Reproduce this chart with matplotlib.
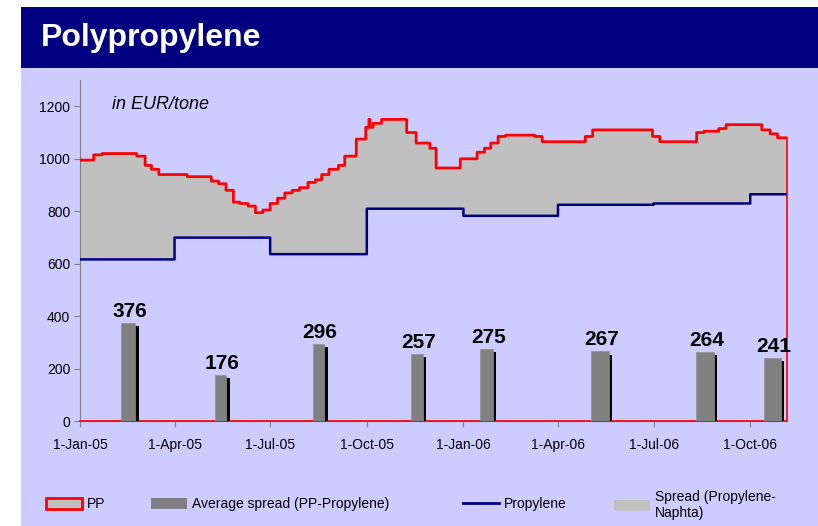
"""
    Polypropylene: PP price against the propylene contract price and the
    average spread between them, January 2005 to November 2006, in EUR/tone.
"""
# Modules:
import pandas as pd
import matplotlib.pyplot as plt
import matplotlib.dates as mdates
from matplotlib.patches import Patch, Rectangle
from matplotlib.lines import Line2D

# Data:
pp_dates = ['2005-01-01', '2005-01-14', '2005-01-22', '2005-02-24', '2005-03-04',
            '2005-03-10', '2005-03-17', '2005-04-13', '2005-05-06', '2005-05-13',
            '2005-05-20', '2005-05-27', '2005-06-02', '2005-06-10', '2005-06-17',
            '2005-06-24', '2005-07-01', '2005-07-08', '2005-07-15', '2005-07-22',
            '2005-07-29', '2005-08-06', '2005-08-13', '2005-08-19', '2005-08-26',
            '2005-09-04', '2005-09-10', '2005-09-21', '2005-09-30', '2005-10-03',
            '2005-10-04', '2005-10-07', '2005-10-15', '2005-11-08', '2005-11-17',
            '2005-11-30', '2005-12-06', '2005-12-29', '2006-01-14', '2006-01-21',
            '2006-01-27', '2006-02-03', '2006-02-10', '2006-03-10', '2006-03-17',
            '2006-04-27', '2006-05-04', '2006-06-30', '2006-07-07', '2006-08-11',
            '2006-08-18', '2006-09-01', '2006-09-08', '2006-10-12', '2006-10-20',
            '2006-10-27']
pp_values = [995, 1015, 1020, 1010, 975,
             960, 940, 932, 915, 905,
             880, 835, 830, 820, 795,
             805, 830, 850, 870, 880,
             890, 910, 920, 940, 960,
             975, 1010, 1075, 1120, 1150,
             1120, 1135, 1150, 1100, 1060,
             1040, 965, 1000, 1025, 1040,
             1060, 1085, 1090, 1085, 1065,
             1085, 1110, 1085, 1065, 1100,
             1105, 1115, 1130, 1110, 1095,
             1080]
propylene_dates = ['2005-01-01', '2005-04-01', '2005-07-01', '2005-10-01', '2006-01-01',
                   '2006-04-01', '2006-07-01', '2006-10-01']
propylene_values = [617, 700, 637, 810, 783, 825, 830, 865]
spread_dates = ['2005-02-16', '2005-05-15', '2005-08-16', '2005-11-18', '2006-01-23',
                '2006-05-11', '2006-08-19', '2006-10-22']
spread_values = [376, 176, 296, 257, 275, 267, 264, 241]
spread_days = [13, 10.5, 11, 11, 12, 17, 17, 16]  # width of each bar in days
xtick_dates = ['2005-01-01', '2005-04-01', '2005-07-01', '2005-10-01', '2006-01-01',
               '2006-04-01', '2006-07-01', '2006-10-01']
xtick_labels = ['1-Jan-05', '1-Apr-05', '1-Jul-05', '1-Oct-05', '1-Jan-06',
                '1-Apr-06', '1-Jul-06', '1-Oct-06']
yticks = [0, 200, 400, 600, 800, 1000, 1200]
start_date = '2005-01-01'
end_date = '2006-11-05'

# Colours:
NAVY = '#000080'
LAVENDER = '#CCCCFF'
LIGHT_GREY = '#C0C0C0'
DARK_GREY = '#808080'

plt.rcParams['font.family'] = ['Liberation Sans', 'DejaVu Sans']


# Functions:
def daily_steps(dates, values):
    """ Hold each price until it changes, one value per day up to the end date. """
    series = pd.Series(values, index=pd.to_datetime(dates))
    days = pd.date_range(start_date, end_date, freq='D')
    series = series.reindex(days).ffill()

    return(mdates.date2num(days.to_pydatetime()), series.values)


def draw_background(fig):
    """ Lavender panel with the navy title band on top. """

    # Panel and title band:
    fig.patches.append(Rectangle((0.0253, 0), 0.975, 0.8707, transform=fig.transFigure,
                                 facecolor=LAVENDER, edgecolor='none', zorder=-2))
    fig.patches.append(Rectangle((0.0253, 0.8707), 0.975, 0.1166, transform=fig.transFigure,
                                 facecolor=NAVY, edgecolor='none', zorder=-2))

    # Adding title:
    fig.text(0.050, 0.927, "Polypropylene", color='white', fontsize=23,
             fontweight='bold', va='center')


def graph_plotter(x, pp, propylene):
    """ Draw the spread area, both price lines and the average spread bars. """
    fig = plt.figure(figsize=(8.18, 5.26), dpi=100, facecolor='white')
    draw_background(fig)
    ax = plt.axes([0.0978, 0.1987, 0.8643, 0.6492], facecolor='none')

    # Spread between PP and propylene:
    plt.fill_between(x, propylene, pp, step='post', color=LIGHT_GREY, linewidth=0)

    # PP outline (right edge and baseline thinner):
    plt.plot(x, pp, color='red', linewidth=2, drawstyle='steps-post', zorder=3)
    plt.plot([x[-1], x[-1], x[0]], [pp[-1], 0, 0], color='red', linewidth=1.2,
             zorder=3, clip_on=False)

    # Propylene contract price:
    plt.plot(x, propylene, color=NAVY, linewidth=1.8, drawstyle='steps-post', zorder=3)

    # Average spread bars with their shadow:
    bar_x = mdates.date2num(pd.to_datetime(spread_dates).to_pydatetime())
    plt.bar(bar_x + 3.2, spread_values, width=spread_days, bottom=-12,
            color='black', zorder=4)
    plt.bar(bar_x, spread_values, width=spread_days, color=DARK_GREY,
            edgecolor='#909090', linewidth=0.5, zorder=5)
    for bx, value in zip(bar_x, spread_values):
        plt.annotate(str(value), (bx + 1.5, value), xytext=(0, 6), textcoords='offset pixels',
                     ha='center', va='baseline', fontsize=15, fontweight='bold', zorder=6)

    # Adding unit note:
    plt.text(0.045, 0.915, "in EUR/tone", transform=ax.transAxes, fontsize=13,
             fontstyle='italic', va='baseline')

    # Axes:
    plt.xlim(mdates.datestr2num(start_date), mdates.datestr2num(end_date))
    plt.ylim(0, 1300)
    plt.xticks(mdates.date2num(pd.to_datetime(xtick_dates).to_pydatetime()), xtick_labels)
    plt.yticks(yticks)
    plt.tick_params(axis='x', direction='out', length=4, color=DARK_GREY, labelsize=10, pad=8)
    plt.tick_params(axis='y', direction='out', length=4, color=DARK_GREY, labelsize=10, pad=3)
    for side in ['top', 'right']:
        ax.spines[side].set_visible(False)
    for side in ['left', 'bottom']:
        ax.spines[side].set_color(DARK_GREY)
    ax.spines['bottom'].set_zorder(2)

    # Legend, one entry at a time so each sits where it should:
    entries = [
        (Patch(facecolor=LIGHT_GREY, edgecolor='red', linewidth=2), "PP", 0.056, 0.0418),
        (Patch(facecolor=DARK_GREY, edgecolor='none'), "Average spread (PP-Propylene)", 0.1846, 0.0418),
        (Line2D([], [], color=NAVY, linewidth=2), "Propylene", 0.566, 0.0418),
        (Patch(facecolor=LIGHT_GREY, edgecolor='none'), "Spread (Propylene-\nNaphta)", 0.7506, 0.040),
    ]
    for handle, label, lx, ly in entries:
        fig.legend(handles=[handle], labels=[label], loc='center left', bbox_to_anchor=(lx, ly),
                   frameon=False, fontsize=10, handlelength=2.6, handleheight=0.86,
                   handletextpad=0.36, borderpad=0, borderaxespad=0, labelspacing=0.1)

    # Save plot:
    plt.savefig('out.png', dpi=100, facecolor=fig.get_facecolor())


def main():
    """ Build the daily series and draw the chart. """
    x, pp = daily_steps(pp_dates, pp_values)
    x, propylene = daily_steps(propylene_dates, propylene_values)

    graph_plotter(x, pp, propylene)


if __name__ == '__main__':
    main()
